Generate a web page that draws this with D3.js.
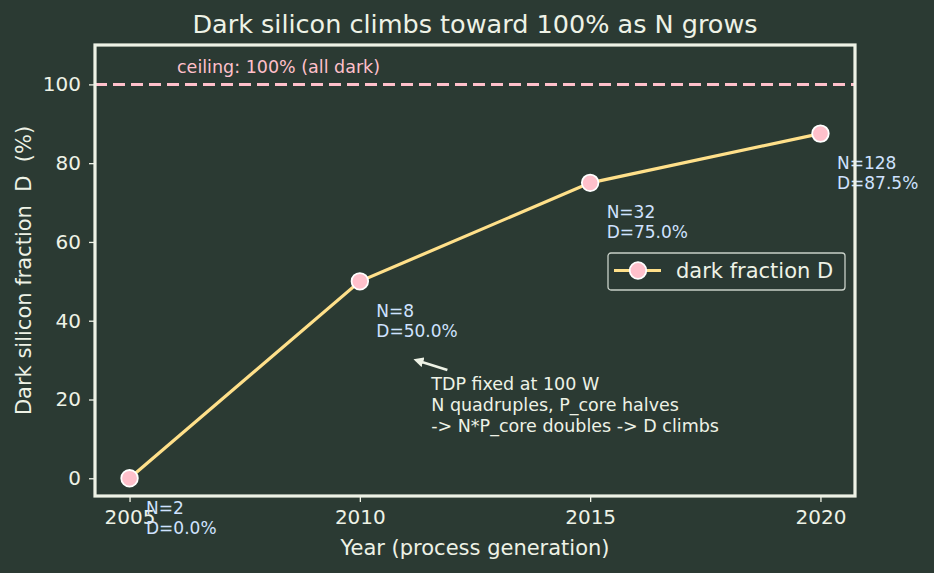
<!DOCTYPE html>
<html>
<head>
<meta charset="utf-8">
<script src="https://cdn.jsdelivr.net/npm/d3@7"></script>
<style>
  body { margin: 0; background: #2b3a33; }
  text { font-family: "DejaVu Sans", sans-serif; white-space: pre; }
</style>
</head>
<body>
<div id="chart"></div>
<script>
// data
const years = [2005, 2010, 2015, 2020];
const cores = [2, 8, 32, 128];
const darkPct = [0, 50, 75, 87.5];
const yTicks = [0, 20, 40, 60, 80, 100];
const xTicks = [2005, 2010, 2015, 2020];
const noteLines = ["TDP fixed at 100 W", "N quadruples, P_core halves", "-> N*P_core doubles -> D climbs"];

const W = 934, H = 573;
const bg = "#2b3a33", fg = "#eef2e6";
const box = { left: 95, right: 855, top: 45, bottom: 496 };

const svg = d3.select("#chart")
    .append("svg")
    .attr("width", W)
    .attr("height", H);

svg.append("rect").attr("width", W).attr("height", H).attr("fill", bg);

const x = d3.scaleLinear().domain([2004.25, 2020.75]).range([box.left, box.right]);
const y = d3.scaleLinear().domain([-4.5, 110]).range([box.bottom, box.top]);

// axes
const xAxis = svg.append("g")
    .attr("transform", `translate(0,${box.bottom})`)
    .call(d3.axisBottom(x).tickValues(xTicks).tickFormat(d3.format("d")).tickSize(6).tickPadding(8));
const yAxis = svg.append("g")
    .attr("transform", `translate(${box.left},0)`)
    .call(d3.axisLeft(y).tickValues(yTicks).tickSize(6).tickPadding(8));
[xAxis, yAxis].forEach(a => {
    a.select(".domain").remove();
    a.selectAll(".tick line").attr("stroke", fg).attr("stroke-width", 1.3);
    a.selectAll(".tick text").attr("fill", fg).style("font-size", "20px");
});

// ceiling line
svg.append("line")
    .attr("x1", box.left).attr("x2", box.right)
    .attr("y1", y(100)).attr("y2", y(100))
    .attr("stroke", "#ffc0cb").attr("stroke-width", 3)
    .attr("stroke-dasharray", "12,6");
svg.append("text")
    .attr("x", 177).attr("y", y(100) - 11)
    .attr("fill", "#ffc0cb").style("font-size", "17.5px")
    .text("ceiling: 100% (all dark)");

// series
const pts = years.map((yr, i) => ({ yr: yr, n: cores[i], d: darkPct[i] }));
const line = d3.line().x(d => x(d.yr)).y(d => y(d.d));
svg.append("path")
    .datum(pts)
    .attr("d", line)
    .attr("fill", "none")
    .attr("stroke", "#ffe08a")
    .attr("stroke-width", 3.2);
svg.selectAll(".pt")
    .data(pts)
    .enter()
    .append("circle")
    .attr("class", "pt")
    .attr("cx", d => x(d.yr)).attr("cy", d => y(d.d))
    .attr("r", 8.3)
    .attr("fill", "#ffc0cb")
    .attr("stroke", "#ffffff")
    .attr("stroke-width", 1.8);

// point labels
const lbl = svg.selectAll(".lbl")
    .data(pts)
    .enter()
    .append("text")
    .attr("class", "lbl")
    .attr("fill", "#cfe2ff")
    .style("font-size", "17px");
lbl.append("tspan")
    .attr("x", d => x(d.yr) + 16.5).attr("y", d => y(d.d) + 35.5)
    .text(d => "N=" + d.n);
lbl.append("tspan")
    .attr("x", d => x(d.yr) + 16.5).attr("y", d => y(d.d) + 55.5)
    .text(d => "D=" + d.d.toFixed(1) + "%");

// annotation
svg.append("defs").append("marker")
    .attr("id", "head")
    .attr("viewBox", "0 0 10 10")
    .attr("refX", 2).attr("refY", 5)
    .attr("markerWidth", 4).attr("markerHeight", 4)
    .attr("orient", "auto")
    .append("path").attr("d", "M0,0 L10,5 L0,10 z").attr("fill", fg);
svg.append("line")
    .attr("x1", x(2011.9)).attr("y1", y(27.5))
    .attr("x2", x(2011.33)).attr("y2", y(29.6))
    .attr("stroke", fg).attr("stroke-width", 2.5)
    .attr("marker-end", "url(#head)");
svg.append("text")
    .attr("fill", fg).style("font-size", "17.5px")
    .selectAll("tspan")
    .data(noteLines)
    .enter()
    .append("tspan")
    .attr("x", x(2011.55))
    .attr("y", (d, i) => y(22.5) + i * 21.2)
    .text(d => d);

// frame
svg.append("rect")
    .attr("x", box.left).attr("y", box.top)
    .attr("width", box.right - box.left).attr("height", box.bottom - box.top)
    .attr("fill", "none").attr("stroke", fg).attr("stroke-width", 3.2);

// legend
const leg = svg.append("g").attr("transform", "translate(608,253)");
leg.append("rect")
    .attr("width", 237).attr("height", 37).attr("rx", 3)
    .attr("fill", bg).attr("fill-opacity", 0.8)
    .attr("stroke", "#c8d0c8").attr("stroke-width", 1.3);
leg.append("line")
    .attr("x1", 6).attr("x2", 53).attr("y1", 17.5).attr("y2", 17.5)
    .attr("stroke", "#ffe08a").attr("stroke-width", 3.2);
leg.append("circle")
    .attr("cx", 30).attr("cy", 17.5).attr("r", 8.3)
    .attr("fill", "#ffc0cb").attr("stroke", "#ffffff").attr("stroke-width", 1.8);
leg.append("text")
    .attr("x", 68).attr("y", 24.5)
    .attr("fill", fg).style("font-size", "21px")
    .text("dark fraction D");

// titles
svg.append("text")
    .attr("x", (box.left + box.right) / 2).attr("y", 33)
    .attr("text-anchor", "middle")
    .attr("fill", fg).style("font-size", "25.5px")
    .text("Dark silicon climbs toward 100% as N grows");
svg.append("text")
    .attr("x", (box.left + box.right) / 2).attr("y", 555)
    .attr("text-anchor", "middle")
    .attr("fill", fg).style("font-size", "21px")
    .text("Year (process generation)");
svg.append("text")
    .attr("transform", `translate(31,${(box.top + box.bottom) / 2}) rotate(-90)`)
    .attr("text-anchor", "middle")
    .attr("fill", fg).style("font-size", "21px")
    .text("Dark silicon fraction  D  (%)");
</script>
</body>
</html>
